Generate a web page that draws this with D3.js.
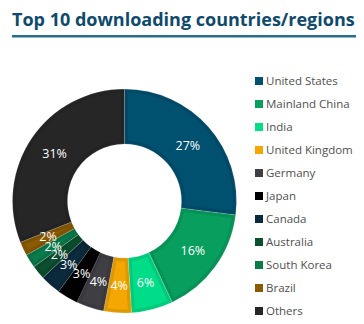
<!DOCTYPE html>
<html><head><meta charset="utf-8">
<script src="https://cdn.jsdelivr.net/npm/d3@7"></script>
<style>body{margin:0;background:#fff}svg{display:block}</style>
</head><body>
<svg id="c" width="364" height="324"></svg>
<script>
const categories = ["United States","Mainland China","India","United Kingdom","Germany","Japan","Canada","Australia","South Korea","Brazil","Others"];
const values = [27,16,6,4,4,3,3,2,2,2,31];
const colors = ["#005070","#089f5e","#00dd88","#f4a700","#3e3e43","#000000","#0b2a3c","#0b4f2e","#0a7b4b","#8a5b00","#262626"];
const titleText = "Top 10 downloading countries/regions";

const svg = d3.select("#c");
const font = "'Open Sans', sans-serif";

const title = svg.append("text").attr("x",12).attr("y",26)
  .attr("font-family",font).attr("font-weight",700).attr("font-size",19)
  .attr("fill","#0f4a6c").text(titleText);
const tl = title.node().getComputedTextLength();
const fs = Math.min(19.5, 19*343/tl);
title.attr("font-size",fs);
svg.append("rect").attr("x",12).attr("y",35).attr("width",344).attr("height",2.5).attr("fill","#2b6d8c");

const cx=124.5, cy=201, R=112, r=57;
const data = categories.map((c,i)=>({name:c,value:values[i],color:colors[i]}));
const pie = d3.pie().value(d=>d.value).sort(null);
const arcs = pie(data);
const outer = d3.arc().innerRadius(r).outerRadius(R);
const inner = d3.arc().innerRadius(r+3.5).outerRadius(R-3.5).padRadius(R).padAngle(7/R);
const g = svg.append("g").attr("transform",`translate(${cx},${cy})`);
g.selectAll("path.o").data(arcs).join("path").attr("class","o")
  .attr("d",outer).attr("fill",d=>d3.color(d.data.color).darker(0.25))
  .attr("stroke",d=>d.data.color==="#000000"?"#000":"#fff").attr("stroke-width",0.3).attr("stroke-opacity",0.5);
g.selectAll("path.i").data(arcs).join("path").attr("class","i")
  .attr("d",inner).attr("fill",d=>d.data.color);
g.selectAll("text").data(arcs).join("text")
  .attr("transform",d=>`translate(${outer.centroid(d)})`)
  .attr("text-anchor","middle").attr("dy","0.36em")
  .attr("font-family",font).attr("font-size",12.5).attr("fill","#fff")
  .text(d=>d.data.value+"%");

const lg = svg.append("g");
const rows = lg.selectAll("g").data(data).join("g")
  .attr("transform",(d,i)=>`translate(255,${81+i*23})`);
rows.append("rect").attr("x",0).attr("y",-4).attr("width",8).attr("height",8).attr("fill",d=>d.color);
rows.append("text").attr("x",11).attr("dy","0.36em").attr("font-family",font).attr("font-size",11.5)
  .attr("fill","#505050").text(d=>d.name);
</script>
</body></html>
